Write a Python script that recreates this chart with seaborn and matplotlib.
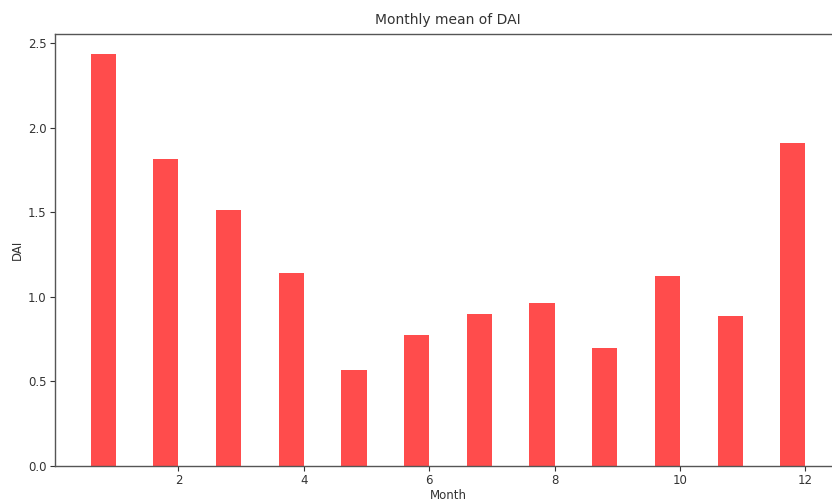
import numpy as np
import pandas as pd
import matplotlib
matplotlib.use("Agg")
import matplotlib.pyplot as plt
import seaborn as sns

# monthly mean of DAI
months = [1, 2, 3, 4, 5, 6, 7, 8, 9, 10, 11, 12]
dai_mean = [2.435, 1.816, 1.510, 1.143, 0.566, 0.774, 0.901, 0.965, 0.695, 1.125, 0.888, 1.906]
xticks = [2, 4, 6, 8, 10, 12]
yticks = [0.0, 0.5, 1.0, 1.5, 2.0, 2.5]

bar_width = 0.4

df = pd.DataFrame({"Month": months, "DAI": dai_mean})
# bars sit to the left of each month tick (right edge on the month)
df["pos"] = df["Month"] - bar_width / 2

sns.set_style("ticks")
plt.rcParams["font.family"] = ["DejaVu Sans"]

fig = plt.figure(figsize=(8.32, 5.03), dpi=100)
ax = fig.add_axes([55 / 832, 37 / 503, 786 / 832, 432 / 503])

sns.barplot(data=df, x="pos", y="DAI", native_scale=True, width=bar_width,
            color="red", alpha=0.7, saturation=1, linewidth=0, ax=ax)

ax.set_xlim(0.03, 12.57)
ax.set_ylim(0, 2.553)
ax.set_xticks(xticks)
ax.set_xticklabels([str(t) for t in xticks])
ax.set_yticks(yticks)
ax.set_yticklabels([f"{t:.1f}" for t in yticks])
ax.tick_params(labelsize=8.5, length=3.5, width=0.8, pad=2.5, colors="#333333")

for s in ax.spines.values():
    s.set_color("#555555")
    s.set_linewidth(1.0)

ax.set_title("Monthly mean of DAI", fontsize=10, color="#333333", pad=7)
ax.set_xlabel("Month", fontsize=8.5, color="#333333", labelpad=1)
ax.set_ylabel("DAI", fontsize=8.5, color="#333333", labelpad=3)

fig.savefig("out.png", dpi=100)
